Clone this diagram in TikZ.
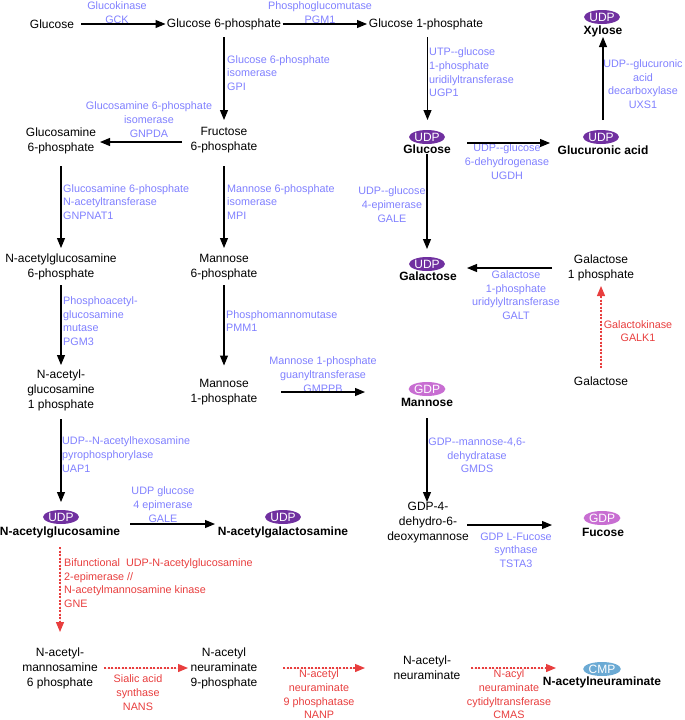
\documentclass[tikz,border=0pt]{standalone}
\usepackage{fontspec}
\setmainfont{Liberation Sans}
\usetikzlibrary{arrows.meta,shapes.geometric}
\definecolor{enzblue}{RGB}{128,128,255}
\definecolor{enzred}{RGB}{232,62,62}
\definecolor{udpc}{RGB}{112,48,160}
\definecolor{gdpc}{RGB}{200,110,210}
\definecolor{cmpc}{RGB}{107,170,212}
\begin{document}
\begin{tikzpicture}[x=1pt,y=-1pt,
  met/.style={font=\fontsize{12}{15}\selectfont, align=center, inner sep=0pt},
  bmet/.style={font=\fontsize{12}{15}\selectfont\bfseries, align=center, inner sep=0pt},
  enz/.style={font=\fontsize{10.8}{13.7}\selectfont, text=enzblue, align=center, inner sep=0pt},
  enzl/.style={enz, align=left, anchor=west},
  renz/.style={enz, text=enzred},
  renzl/.style={renz, align=left, anchor=west},
  cof/.style={ellipse, inner sep=0pt, minimum width=34pt, minimum height=14pt, text=white, font=\fontsize{12}{12}\selectfont},
  udp/.style={cof, fill=udpc},
  gdp/.style={cof, fill=gdpc},
  cmp/.style={cof, fill=cmpc},
  arr/.style={draw=black, line width=1.1pt, -{Triangle[length=10pt,width=8pt]}},
  rarr/.style={draw=enzred, fill=enzred, line width=1.2pt, dash pattern=on 2pt off 1.5pt, -{Triangle[length=10pt,width=8pt]}}
]
\useasboundingbox (0,0) rectangle (685,720);

% ---------- metabolites ----------
\node[met] (glc)  at (52,24)  {Glucose};
\node[met] (g6p)  at (224,24) {Glucose 6-phosphate};
\node[met] (g1p)  at (426,24) {Glucose 1-phosphate};
\node[met] (f6p)  at (224,140.5) {Fructose\\6-phosphate};
\node[met] (gn6p) at (61,140.5) {Glucosamine\\6-phosphate};
\node[met] (nag6p) at (61,267) {N-acetylglucosamine\\6-phosphate};
\node[met] (m6p)  at (224,267) {Mannose\\6-phosphate};
\node[met] (nag1p) at (61,390.5) {N-acetyl-\\glucosamine\\1 phosphate};
\node[met] (m1p)  at (224,392) {Mannose\\1-phosphate};
\node[met] (gdpdm) at (428,523) {GDP-4-\\dehydro-6-\\deoxymannose};
\node[met] (gal1p) at (601,268) {Galactose\\1 phosphate};
\node[met] (gal)  at (601,381) {Galactose};
\node[met] (manam6p) at (60,668) {N-acetyl-\\mannosamine\\6 phosphate};
\node[met] (neu9p) at (224,668) {N-acetyl\\neuraminate\\9-phosphate};
\node[met] (neu)  at (427,668) {N-acetyl-\\neuraminate};

% nucleotide sugars
\node[bmet] (uglc)  at (427,149) {Glucose};
\node[udp]  (uglcu) at (427,137) {UDP};
\node[bmet] (uglca) at (603,150) {Glucuronic acid};
\node[udp]  (uglcau) at (601,137) {UDP};
\node[bmet] (uxyl)  at (603,31) {Xylose};
\node[udp]  (uxylu) at (602,17) {UDP};
\node[bmet] (ugal)  at (428,276) {Galactose};
\node[udp]  (ugalu) at (427,264) {UDP};
\node[bmet] (gman)  at (427,402) {Mannose};
\node[gdp]  (gmanu) at (427,389) {GDP};
\node[bmet] (gfuc)  at (603,532) {Fucose};
\node[gdp]  (gfucu) at (602,518) {GDP};
\node[bmet] (uglcnac) at (60,532) {N-acetylglucosamine};
\node[udp]  (uglcnacu) at (61,517) {UDP};
\node[bmet] (ugalnac) at (283,532) {N-acetylgalactosamine};
\node[udp]  (ugalnacu) at (283,517) {UDP};
\node[bmet] (cneu)  at (602,682) {N-acetylneuraminate};
\node[cmp]  (cneuu) at (602,669) {CMP};

% ---------- enzymes ----------
\node[enz]  (e1) at (117,12.5) {Glucokinase\\GCK};
\node[enz]  (e2) at (320,12.5) {Phosphoglucomutase\\PGM1};
\node[enzl] (e3) at (227,73) {Glucose 6-phosphate\\isomerase\\GPI};
\node[enz]  (e4) at (149,119.5) {Glucosamine 6-phosphate\\isomerase\\GNPDA};
\node[enzl] (e5) at (429,72.5) {UTP-{}-glucose\\1-phosphate\\uridilyltransferase\\UGP1};
\node[enz]  (e6) at (643,84) {UDP-{}-glucuronic\\acid\\decarboxylase\\UXS1};
\node[enz]  (e7) at (507,161.5) {UDP-{}-glucose\\6-dehydrogenase\\UGDH};
\node[enzl] (e8) at (63,202) {Glucosamine 6-phosphate\\N-acetyltransferase\\GNPNAT1};
\node[enzl] (e9) at (227,202) {Mannose 6-phosphate\\isomerase\\MPI};
\node[enz]  (e10) at (392,204.5) {UDP-{}-glucose\\4-epimerase\\GALE};
\node[enz]  (e11) at (516,295) {Galactose\\1-phosphate\\uridylyltransferase\\GALT};
\node[enzl] (e12) at (63,321) {Phosphoacetyl-\\glucosamine\\mutase\\PGM3};
\node[enzl] (e13) at (226,321) {Phosphomannomutase\\PMM1};
\node[enz]  (e14) at (323,374.5) {Mannose 1-phosphate\\guanyltransferase\\GMPPB};
\node[enzl] (e15) at (62,454.5) {UDP-{}-N-acetylhexosamine\\pyrophosphorylase\\UAP1};
\node[enz]  (e16) at (477,455.5) {GDP-{}-mannose-4,6-\\dehydratase\\GMDS};
\node[enz]  (e17) at (163,504.5) {UDP glucose\\4 epimerase\\GALE};
\node[enz]  (e18) at (516,550) {GDP L-Fucose\\synthase\\TSTA3};
\node[renz] (e19) at (638,331) {Galactokinase\\GALK1};
\node[renzl] (e20) at (64,583) {Bifunctional\ \ UDP-N-acetylglucosamine\\2-epimerase //\\N-acetylmannosamine kinase\\GNE};
\node[renz] (e21) at (138,692.5) {Sialic acid\\synthase\\NANS};
\node[renz] (e22) at (319,694.5) {N-acetyl\\neuraminate\\9 phosphatase\\NANP};
\node[renz] (e23) at (509,694.5) {N-acyl\\neuraminate\\cytidyltransferase\\CMAS};

% ---------- black arrows ----------
\draw[arr, shorten <=29pt, shorten >=58.5pt] (glc.center) -- (g6p.center);
\draw[arr, shorten <=58.5pt, shorten >=59pt] (g6p.center) -- (g1p.center);
\draw[arr, shorten <=13pt, shorten >=20.5pt] (g6p.center) -- (f6p.center);
\draw[arr, shorten <=42pt, shorten >=39pt] ([yshift=-1.5pt]f6p.center) -- ([yshift=-1.5pt]gn6p.center);
\draw[arr, shorten <=25.5pt, shorten >=19pt] (gn6p.center) -- (nag6p.center);
\draw[arr, shorten <=18pt, shorten >=25.5pt] (nag6p.center) -- (nag1p.center);
\draw[arr, shorten <=28.5pt, shorten >=15pt] (nag1p.center) -- (nag1p.center |- uglcnacu.center);
\draw[arr, shorten <=70pt, shorten >=68pt] ([yshift=8pt]uglcnac.center) -- ([yshift=8pt]ugalnac.center);
\draw[arr, shorten <=25.5pt, shorten >=19pt] (f6p.center) -- (m6p.center);
\draw[arr, shorten <=18pt, shorten >=26.5pt] (m6p.center) -- (m1p.center);
\draw[arr, shorten <=57pt, shorten >=62pt] (m1p.center) -- (m1p.center -| gman.center);
\draw[arr, shorten <=16pt, shorten >=21pt] (gman.center) -- (gman.center |- gdpdm.center);
\draw[arr, shorten <=39pt, shorten >=51pt] ([yshift=-2pt]gdpdm.center) -- ([yshift=-2pt]gdpdm.center -| gfuc.center);
\draw[arr, shorten <=13pt, shorten >=17pt] ([xshift=1.5pt]g1p.center) -- ([xshift=1.5pt]g1p.center |- uglcu.center);
\draw[arr, shorten <=40pt, shorten >=53pt] ([yshift=6pt]uglc.center) -- ([yshift=6pt]uglc.center -| uglca.center);
\draw[arr, shorten <=17pt, shorten >=6pt] (uglca.center |- uglcau.center) -- (uglca.center |- uxyl.center);
\draw[arr, shorten <=17pt, shorten >=15pt] (uglcu.center) -- (ugalu.center);
\draw[arr, shorten <=49pt, shorten >=40pt] (gal1p.center) -- (gal1p.center -| ugalu.center);

% ---------- red dotted arrows ----------
\draw[rarr, shorten <=13pt, shorten >=18pt] (gal.center) -- (gal1p.center);
\draw[rarr, shorten <=15pt, shorten >=36pt] (uglcnac.center) -- (uglcnac.center |- manam6p.center);
\draw[rarr, shorten <=44pt, shorten >=36pt] (manam6p.center) -- (neu9p.center);
\draw[rarr, shorten <=59pt, shorten >=62pt] (neu9p.center) -- (neu9p.center -| neu.center);
\draw[rarr, shorten <=44pt, shorten >=46pt] (neu.center) -- (neu.center -| cneu.center);
\end{tikzpicture}
\end{document}
